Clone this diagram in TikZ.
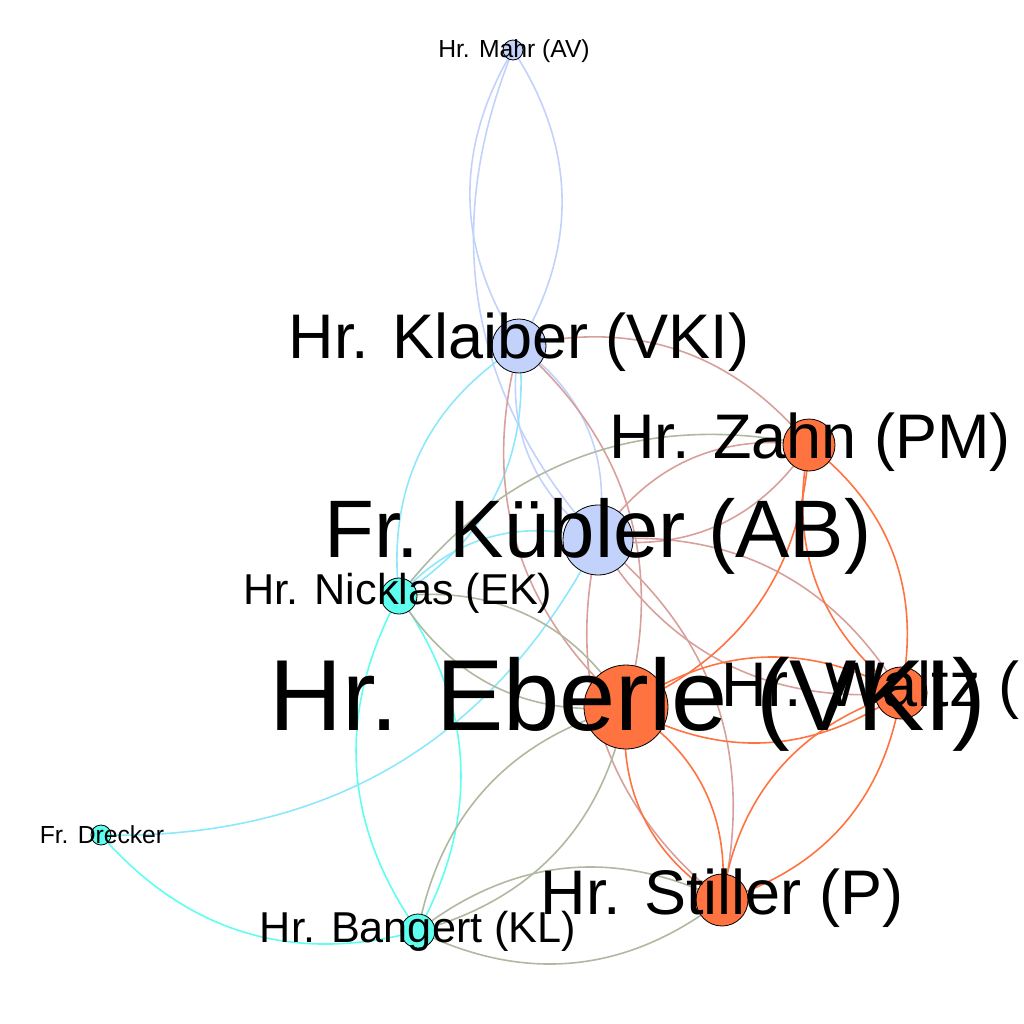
\documentclass[tikz,border=0pt]{standalone}
\usepackage{fontspec}
\setmainfont{Liberation Sans}
\usetikzlibrary{backgrounds}
\definecolor{vki}{RGB}{194,210,250}
\definecolor{ek}{RGB}{95,255,240}
\definecolor{pm}{RGB}{255,115,64}
\definecolor{mixbc}{RGB}{140,232,250}
\definecolor{mixbo}{RGB}{216,160,156}
\definecolor{mixco}{RGB}{176,184,160}
\begin{document}
\begin{tikzpicture}[x=0.5pt, y=-0.5pt,
    roundnode/.style={circle, draw=black, line width=0.4pt, inner sep=0pt},
    link/.style={line width=0.8pt},
    namelabel/.style={inner sep=0pt, anchor=base}]
\useasboundingbox (0,0) rectangle (1024,1024);
\clip (0,0) rectangle (1024,1024);
   % people
   \foreach \n/\x/\y/\r/\c in {mahr/513/50/10/vki, klaiber/519/346/27/vki, zahn/809/445/26/pm,
        kuebler/598/540/35/vki, nicklas/399/596/18/ek, eberle/626/707/42/pm, waltz/901/693/26/pm,
        drecker/101/835/10/ek, stiller/722/900/26/pm, bangert/418/931/17/ek}
       \node[roundnode, fill=\c, minimum size=\r pt] at (\x,\y) (\n) {};
   % links, two of them make a lens
   \begin{scope}[on background layer]
       \foreach \a/\b/\c in {mahr/klaiber/vki, klaiber/mahr/vki, mahr/kuebler/vki,
            klaiber/kuebler/vki, kuebler/klaiber/vki,
            klaiber/nicklas/mixbc, nicklas/klaiber/mixbc, drecker/kuebler/mixbc, kuebler/nicklas/mixbc,
            nicklas/bangert/ek, bangert/nicklas/ek, drecker/bangert/ek,
            zahn/klaiber/mixbo, klaiber/eberle/mixbo, eberle/klaiber/mixbo,
            kuebler/zahn/mixbo, zahn/kuebler/mixbo, kuebler/waltz/mixbo, waltz/kuebler/mixbo,
            kuebler/stiller/mixbo, stiller/kuebler/mixbo,
            zahn/nicklas/mixco, nicklas/eberle/mixco, eberle/nicklas/mixco,
            eberle/bangert/mixco, bangert/eberle/mixco, bangert/stiller/mixco, stiller/bangert/mixco,
            eberle/waltz/pm, waltz/eberle/pm, eberle/zahn/pm, zahn/waltz/pm, waltz/zahn/pm,
            eberle/stiller/pm, stiller/eberle/pm, waltz/stiller/pm, stiller/waltz/pm}
           \draw[link, draw=\c] (\a.center) to[bend right=32] (\b.center);
   \end{scope}
   % names
   \foreach \n/\x/\y/\s/\t in {mahr/514/57/12.35/{Hr. Mahr (AV)}, klaiber/519/358/31.5/{Hr. Klaiber (VKI)},
        zahn/810/458/31.5/{Hr. Zahn (PM)}, kuebler/598/557/40.8/{Fr. Kübler (AB)},
        nicklas/398/604/21.6/{Hr. Nicklas (EK)}, eberle/628/730/50.5/{Hr. Eberle (VKI)},
        waltz/902/706/31.5/{Hr. Waltz (P)}, drecker/102/843/12.35/{Fr. Drecker},
        stiller/722/914/31.5/{Hr. Stiller (P)}, bangert/418/942/21.6/{Hr. Bangert (KL)}}
       \node[namelabel, font=\fontsize{\s pt}{\s pt}\selectfont] at (\x,\y) (\n-label) {\t};
\end{tikzpicture}
\end{document}
